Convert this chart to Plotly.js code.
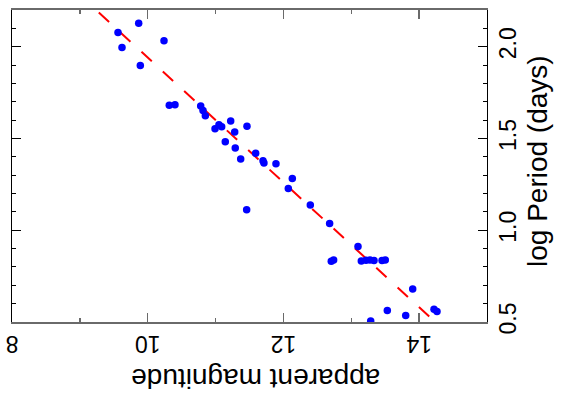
<!DOCTYPE html>
<html>
<head>
<meta charset="utf-8">
<script src="https://cdn.plot.ly/plotly-3.0.1.min.js"></script>
<style>
  html, body { margin: 0; padding: 0; background: #fff; }
  #chart { width: 565px; height: 405px; }
</style>
</head>
<body>
<div id="chart"></div>
<script>
// Cepheid variables: apparent magnitude against log period
const magnitude = [
  9.867, 9.562, 9.621, 10.240, 9.891,
  10.318, 10.402, 10.781, 10.815, 10.849, 10.992, 11.050, 11.090, 11.223, 11.282,
  11.463, 11.143, 11.290, 11.370, 11.591,
  11.699, 11.713, 11.890, 12.131, 12.072, 11.458, 12.396, 12.681,
  13.099, 12.705, 12.740, 13.148, 13.217, 13.276, 13.335, 13.453, 13.501,
  13.905, 13.531, 13.802, 13.286, 14.219, 14.263
];
const logPeriod = [
  2.128, 2.077, 1.995, 2.033, 1.897,
  1.681, 1.684, 1.677, 1.653, 1.624, 1.553, 1.575, 1.564, 1.595, 1.535,
  1.566, 1.482, 1.448, 1.388, 1.420,
  1.378, 1.366, 1.362, 1.282, 1.228, 1.111, 1.137, 1.037,
  0.911, 0.831, 0.838, 0.833, 0.837, 0.838, 0.835, 0.835, 0.838,
  0.680, 0.562, 0.535, 0.505, 0.569, 0.557
];

// fitted period-luminosity relation, endpoints beyond the axes
const fitMagnitude = [8.65, 14.53];
const fitLogPeriod = [2.40, 0.40];

const xTickVals = [8, 10, 12, 14];
const xTickText = ['8', '10', '12', '14'];
const yTickVals = [0.5, 1.0, 1.5, 2.0];
const yTickText = ['0.5', '1.0', '1.5', '2.0'];

const FONT = 'Liberation Sans, Arial, sans-serif';

const traces = [
  {
    x: fitMagnitude, y: fitLogPeriod,
    mode: 'lines', type: 'scatter',
    line: { color: '#ff0000', width: 2, dash: '14px,15px' },
    hoverinfo: 'skip'
  },
  {
    x: magnitude, y: logPeriod,
    mode: 'markers', type: 'scatter',
    marker: { color: '#0000ff', size: 7.5 }
  }
];

const layout = {
  width: 565, height: 405,
  margin: { l: 12, r: 78, t: 10, b: 83 },
  paper_bgcolor: '#ffffff', plot_bgcolor: '#ffffff',
  showlegend: false,
  font: { family: FONT, color: '#000' },
  xaxis: {
    range: [8, 15],
    showgrid: false, zeroline: false,
    showline: true, linecolor: '#6a6a6a', linewidth: 2,
    mirror: 'ticks',
    ticks: 'inside', ticklen: 9, tickwidth: 1.5, tickcolor: '#6a6a6a',
    tickmode: 'array', tickvals: xTickVals, ticktext: xTickText,
    tickangle: 180,
    ticklabelstandoff: 7,
    tickfont: { family: FONT, size: 23, color: '#000' },
    minor: { ticks: 'inside', ticklen: 4, tickwidth: 1.5, tickcolor: '#6a6a6a', dtick: 1, tick0: 8, showgrid: false }
  },
  yaxis: {
    range: [0.5, 2.2],
    side: 'right',
    showgrid: false, zeroline: false,
    showline: true, linecolor: '#000', linewidth: 1,
    mirror: 'ticks',
    ticks: 'inside', ticklen: 9, tickwidth: 1, tickcolor: '#000',
    tickmode: 'array', tickvals: yTickVals, ticktext: yTickText,
    tickangle: -90,
    tickfont: { family: FONT, size: 23, color: '#000' },
    minor: { ticks: 'inside', ticklen: 4, tickwidth: 1, tickcolor: '#000', dtick: 0.1, tick0: 0.5, showgrid: false }
  },
  annotations: [
    {
      text: 'apparent magnitude', textangle: 180,
      xref: 'paper', yref: 'paper', x: 0.514, y: -0.183,
      xanchor: 'center', yanchor: 'middle', showarrow: false,
      font: { family: FONT, size: 28, color: '#000' }
    },
    {
      text: 'log Period (days)', textangle: -90,
      xref: 'paper', yref: 'paper', x: 1.105, y: 0.5156,
      xanchor: 'center', yanchor: 'middle', showarrow: false,
      font: { family: FONT, size: 28, color: '#000' }
    }
  ]
};

Plotly.newPlot('chart', traces, layout, { staticPlot: true, displayModeBar: false });
</script>
</body>
</html>
